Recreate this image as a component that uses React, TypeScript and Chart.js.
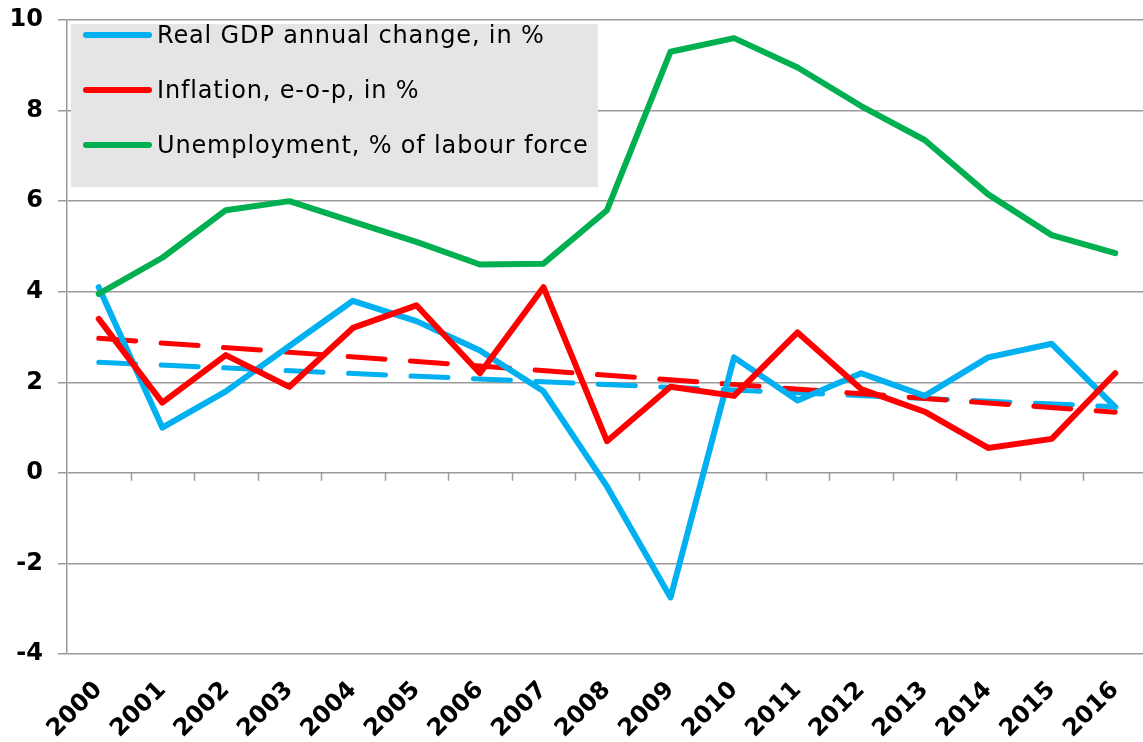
import React, { useEffect, useRef } from "react";
import { Chart, registerables } from "chart.js";

Chart.register(...registerables);

const years = ["2000", "2001", "2002", "2003", "2004", "2005", "2006", "2007", "2008", "2009", "2010", "2011", "2012", "2013", "2014", "2015", "2016"];
const gdp = [4.1, 1.0, 1.8, 2.8, 3.8, 3.35, 2.7, 1.8, -0.3, -2.75, 2.55, 1.6, 2.2, 1.7, 2.55, 2.85, 1.45];
const inflation = [3.4, 1.55, 2.6, 1.9, 3.2, 3.7, 2.2, 4.1, 0.7, 1.9, 1.7, 3.1, 1.85, 1.35, 0.55, 0.75, 2.2];
const unemployment = [3.95, 4.75, 5.8, 6.0, 5.55, 5.1, 4.6, 4.62, 5.8, 9.3, 9.6, 8.95, 8.1, 7.35, 6.15, 5.25, 4.85];
// Trend lines: values read at the first and last year
const gdpTrendEnds = [2.44, 1.46];
const inflationTrendEnds = [2.97, 1.34];
const yMin = -4;
const yMax = 10;
const yStep = 2;

const legendItems = [
  { label: "Real GDP annual change, in %", color: "#00b0f0" },
  { label: "Inflation, e-o-p, in %", color: "#ff0000" },
  { label: "Unemployment, % of labour force", color: "#00b050" },
];

const FONT = "'DejaVu Sans', Verdana, sans-serif";
const GRID = "#9a9a9a";

function trend(ends: number[]): (number | null)[] {
  return years.map((_, i) => (i === 0 ? ends[0] : i === years.length - 1 ? ends[1] : null));
}

const zeroTicks = {
  id: "zeroTicks",
  beforeDatasetsDraw(chart: any) {
    const xs = chart.scales.x;
    const ys = chart.scales.y;
    const y0 = ys.getPixelForValue(0);
    const n = chart.data.labels.length;
    const w = (xs.right - xs.left) / n;
    const ctx = chart.ctx;
    ctx.save();
    ctx.strokeStyle = GRID;
    ctx.lineWidth = 1.5;
    ctx.beginPath();
    for (let i = 1; i <= n; i++) {
      const px = Math.round(xs.left + i * w) + 0.5;
      ctx.moveTo(px, y0);
      ctx.lineTo(px, y0 + 8);
    }
    ctx.stroke();
    ctx.restore();
  },
};

export default function App() {
  const ref = useRef<HTMLCanvasElement | null>(null);

  useEffect(() => {
    if (!ref.current) return;
    const solid = (label: string, data: number[], color: string, order: number) => ({
      label,
      data,
      borderColor: color,
      backgroundColor: color,
      borderWidth: 6,
      pointRadius: 0,
      tension: 0,
      borderCapStyle: "round" as const,
      borderJoinStyle: "round" as const,
      order,
    });
    const dashed = (label: string, ends: number[], color: string, order: number) => ({
      label,
      data: trend(ends),
      borderColor: color,
      backgroundColor: color,
      borderWidth: 5,
      borderDash: [37, 25.5],
      borderCapStyle: "round" as const,
      pointRadius: 0,
      spanGaps: true,
      order,
    });
    const chart = new Chart(ref.current, {
      type: "line",
      data: {
        labels: years,
        datasets: [
          dashed("GDP trend", gdpTrendEnds, "#00b0f0", 5),
          dashed("Inflation trend", inflationTrendEnds, "#ff0000", 4),
          solid("Real GDP annual change, in %", gdp, "#00b0f0", 3),
          solid("Inflation, e-o-p, in %", inflation, "#ff0000", 2),
          solid("Unemployment, % of labour force", unemployment, "#00b050", 1),
        ],
      },
      options: {
        animation: false,
        responsive: false,
        layout: { padding: { top: 20, left: 0, right: 0, bottom: 0 } },
        plugins: {
          legend: { display: false },
          tooltip: { enabled: false },
        },
        scales: {
          x: {
            offset: true,
            grid: { display: false, drawTicks: false },
            border: { display: false },
            ticks: {
              autoSkip: false,
              maxRotation: 45,
              minRotation: 45,
              padding: 22,
              color: "#000",
              font: { family: FONT, size: 24, weight: "bold" },
            },
            afterFit: (s: any) => {
              s.height = 88;
              s.paddingLeft = 0;
              s.paddingRight = 0;
            },
          },
          y: {
            min: yMin,
            max: yMax,
            ticks: {
              stepSize: yStep,
              padding: 15,
              color: "#000",
              font: { family: FONT, size: 24, weight: "bold" },
            },
            grid: { color: GRID, lineWidth: 1.5, tickLength: 9 },
            border: { display: true, color: GRID, width: 1.5 },
            afterFit: (s: any) => {
              s.width = 67;
              s.paddingTop = 0;
              s.paddingBottom = 0;
            },
          },
        },
      },
      plugins: [zeroTicks],
    });
    return () => chart.destroy();
  }, []);

  return (
    <div style={{ position: "fixed", left: 0, top: 0, width: 1143, height: 742, overflow: "hidden", background: "#fff" }}>
      <canvas ref={ref} width={1147} height={742} style={{ display: "block", width: 1147, height: 742 }} />
      <div
        style={{
          position: "absolute",
          left: 71,
          top: 24,
          width: 527,
          height: 163,
          background: "#e5e5e5",
          fontFamily: FONT,
          fontSize: 24,
          letterSpacing: "0.85px",
          color: "#000",
        }}
      >
        {legendItems.map((it, i) => (
          <div
            key={it.label}
            style={{
              position: "absolute",
              left: 12,
              top: 11 + i * 55 - 15,
              height: 30,
              display: "flex",
              alignItems: "center",
              whiteSpace: "nowrap",
            }}
          >
            <div style={{ width: 69, height: 6, borderRadius: 3, background: it.color, marginRight: 5 }} />
            <span style={{ lineHeight: "30px" }}>{it.label}</span>
          </div>
        ))}
      </div>
    </div>
  );
}
